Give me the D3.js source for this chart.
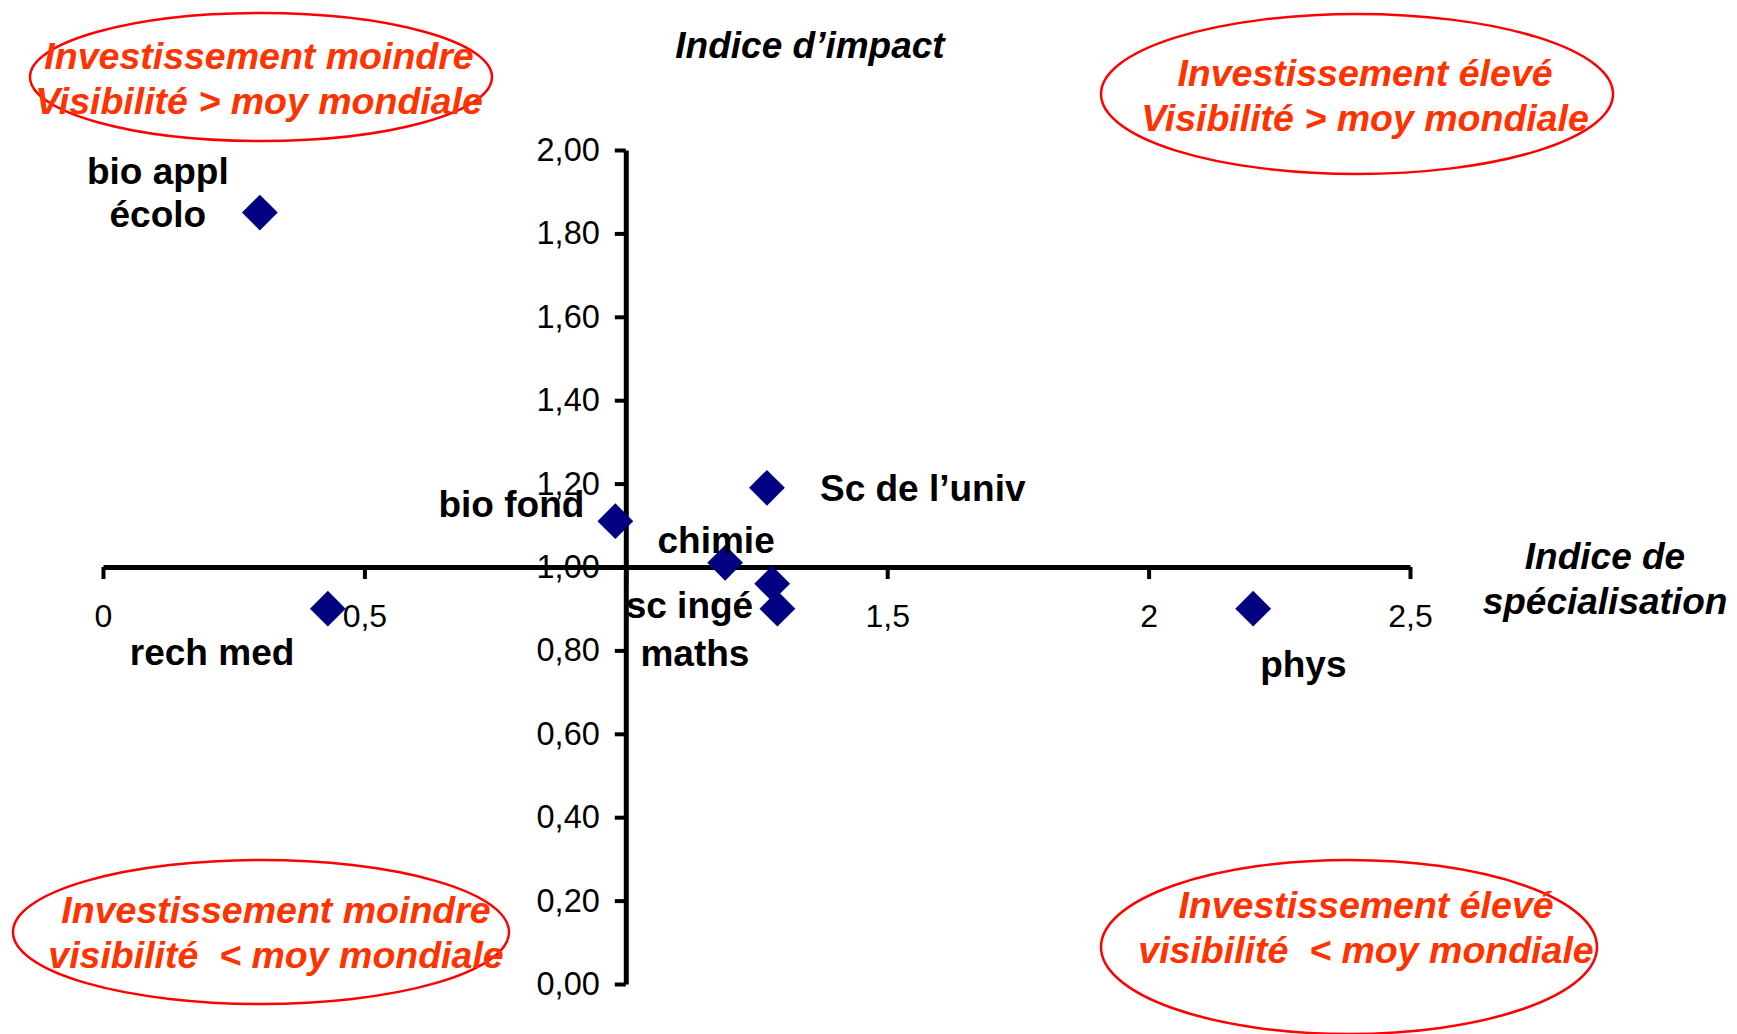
<!DOCTYPE html>
<html>
<head>
<meta charset="utf-8">
<script src="https://cdn.jsdelivr.net/npm/d3@7"></script>
<style>
  html, body { margin: 0; padding: 0; background: #fff; }
  svg { display: block; font-family: "Liberation Sans", Arial, sans-serif; }
</style>
</head>
<body>
<svg id="chart" width="1737" height="1034"></svg>
<script>
// ---------- data ----------
const categories = ["bio appl|écolo", "rech med", "bio fond", "chimie", "Sc de l’univ", "sc ingé", "maths", "phys"];
const specialisation = [0.30, 0.43, 0.98, 1.19, 1.27, 1.28, 1.29, 2.20];
const impact = [1.85, 0.90, 1.11, 1.01, 1.19, 0.96, 0.90, 0.90];
const xTickValues = [0, 0.5, 1, 1.5, 2, 2.5];
const xTickLabels = ["0", "0,5", "", "1,5", "2", "2,5"];
const yTickValues = [0, 0.2, 0.4, 0.6, 0.8, 1.0, 1.2, 1.4, 1.6, 1.8, 2.0];
const quadrantTexts = [
  ["Investissement moindre", "Visibilité > moy mondiale"],
  ["Investissement élevé", "Visibilité > moy mondiale"],
  ["Investissement moindre", "visibilité  < moy mondiale"],
  ["Investissement élevé", "visibilité  < moy mondiale"]
];
const xTitle = ["Indice de", "spécialisation"];
const yTitle = "Indice d’impact";

// ---------- layout (not data) ----------
const labelPlacement = [
  { anchor: "middle", dx: -102, dy: -29, lh: 43 },
  { anchor: "start", dx: -198, dy: 56 },
  { anchor: "end", dx: -31, dy: -4 },
  { anchor: "middle", dx: -9, dy: -10 },
  { anchor: "start", dx: 53, dy: 13 },
  { anchor: "end", dx: -19, dy: 34 },
  { anchor: "end", dx: -28, dy: 57 },
  { anchor: "start", dx: 7, dy: 68 }
];
const ellipses = [
  { cx: 261, cy: 77, rx: 231, ry: 64, tx: 259, ty: 69 },
  { cx: 1357, cy: 94, rx: 256, ry: 80, tx: 1365, ty: 86 },
  { cx: 261, cy: 932, rx: 248, ry: 72, tx: 276, ty: 923 },
  { cx: 1349, cy: 947, rx: 248, ry: 87, tx: 1366, ty: 918 }
];

const svg = d3.select("#chart");
const x = d3.scaleLinear().domain([0, 2.5]).range([103, 1410]);
const y = d3.scaleLinear().domain([0, 2]).range([984, 150]);
const fmtY = v => d3.format(".2f")(v).replace(".", ",");

// x axis crossing at impact = 1
const xAxis = svg.append("g")
  .attr("transform", `translate(0,${y(1)})`)
  .call(d3.axisBottom(x).tickValues(xTickValues)
    .tickFormat((d, i) => xTickLabels[i]).tickSize(12).tickSizeOuter(0).tickPadding(25));
xAxis.select(".domain").attr("stroke", "#000").attr("stroke-width", 5);
xAxis.selectAll(".tick line").attr("stroke", "#000").attr("stroke-width", 4);
xAxis.selectAll(".tick text").attr("font-size", 32).attr("fill", "#000")
  .attr("font-family", "Liberation Sans, Arial, sans-serif");

// y axis crossing at specialisation = 1
const yAxis = svg.append("g")
  .attr("transform", `translate(${x(1)},0)`)
  .call(d3.axisLeft(y).tickValues(yTickValues)
    .tickFormat(fmtY).tickSize(11).tickSizeOuter(0).tickPadding(15));
yAxis.select(".domain").attr("stroke", "#000").attr("stroke-width", 5);
yAxis.selectAll(".tick line").attr("stroke", "#000").attr("stroke-width", 4);
yAxis.selectAll(".tick text").attr("font-size", 32.5).attr("fill", "#000")
  .attr("font-family", "Liberation Sans, Arial, sans-serif");

// axis titles
svg.append("text").attr("x", 810).attr("y", 58).attr("text-anchor", "middle")
  .attr("font-size", 37).attr("font-weight", "bold").attr("font-style", "italic")
  .text(yTitle);
xTitle.forEach((t, i) => {
  svg.append("text").attr("x", 1605).attr("y", 569 + i * 45).attr("text-anchor", "middle")
    .attr("font-size", 37).attr("font-weight", "bold").attr("font-style", "italic")
    .text(t);
});

// points
const pts = categories.map((c, i) => ({ name: c, sx: specialisation[i], iy: impact[i], p: labelPlacement[i] }));
const diamond = d3.symbol().type(d3.symbolSquare).size(640);
svg.append("g").selectAll("path").data(pts).join("path")
  .attr("d", diamond)
  .attr("transform", d => `translate(${x(d.sx)},${y(d.iy)}) rotate(45)`)
  .attr("fill", "#000080");

// labels
const lab = svg.append("g").selectAll("text").data(pts).join("text")
  .attr("x", d => x(d.sx) + d.p.dx)
  .attr("y", d => y(d.iy) + d.p.dy)
  .attr("text-anchor", d => d.p.anchor)
  .attr("font-size", 37).attr("font-weight", "bold").attr("fill", "#000");
lab.each(function (d) {
  const parts = d.name.split("|");
  const t = d3.select(this);
  parts.forEach((s, k) => {
    t.append("tspan").attr("x", x(d.sx) + d.p.dx).attr("dy", k === 0 ? 0 : (d.p.lh || 43)).text(s);
  });
});

// quadrant ellipses
ellipses.forEach((e, i) => {
  svg.append("ellipse").attr("cx", e.cx).attr("cy", e.cy).attr("rx", e.rx).attr("ry", e.ry)
    .attr("fill", "none").attr("stroke", "#FF0000").attr("stroke-width", 2.5);
  quadrantTexts[i].forEach((s, k) => {
    svg.append("text").attr("x", e.tx).attr("y", e.ty + k * 45).attr("text-anchor", "middle")
      .attr("font-size", 37.5).attr("font-weight", "bold").attr("font-style", "italic")
      .attr("fill", "#FF3300").attr("xml:space", "preserve").style("white-space", "pre").text(s);
  });
});
</script>
</body>
</html>
